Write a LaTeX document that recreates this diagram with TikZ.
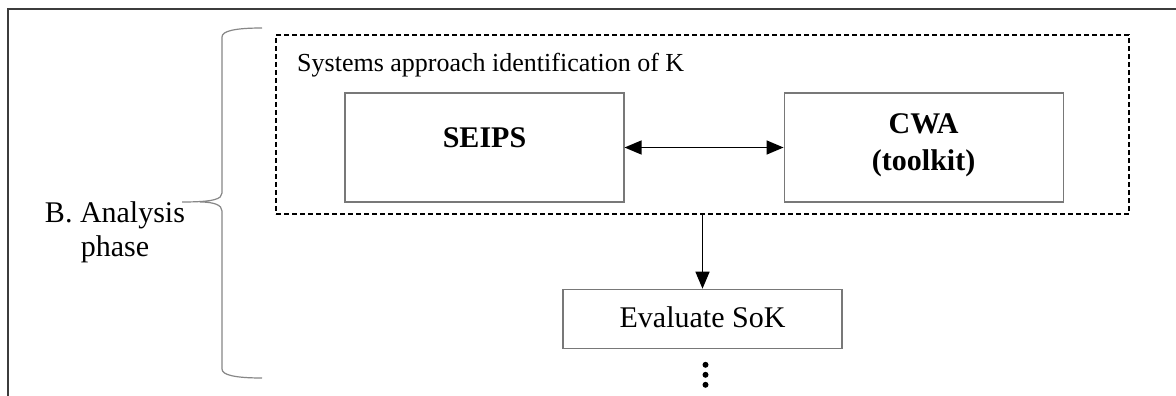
\documentclass[tikz,border=0pt]{standalone}
\usepackage{fontspec}
\setmainfont{Liberation Serif}
\usepackage{xcolor}
\usepackage{tikz}
\usetikzlibrary{arrows.meta, positioning}
\definecolor{framegray}{RGB}{60,60,60}
\definecolor{boxgray}{RGB}{120,120,120}
\definecolor{bracegray}{RGB}{135,135,135}
\tikzset{
    stepbox/.style={rectangle, draw=boxgray, line width=1.1pt,
        minimum width=279pt, inner xsep=0pt, inner ysep=0pt,
        align=center, font=\fontsize{30}{37}\selectfont},
    groupbox/.style={rectangle, draw=black, dashed, dash pattern=on 5pt off 3pt,
        line width=1.4pt, minimum width=853pt, minimum height=179pt, inner sep=0pt},
    arrow/.style={-{Triangle[length=17pt, width=14pt]}, line width=1.4pt},
    bothways/.style={{Triangle[length=17pt, width=14pt]}-{Triangle[length=17pt, width=14pt]}, line width=1.4pt},
}

\begin{document}
\begin{tikzpicture}[x=1pt, y=-1pt]
    \useasboundingbox[fill=white] (0,0) rectangle (1176,396);
    % open frame (left and top edges only)
    \draw[framegray, line width=2pt] (8,396) -- (8,9) -- (1176,9);

    \node (group) [groupbox] at (702.5,124.5) {};
    \node (grouptitle) [anchor=base west, inner sep=0pt, font=\fontsize{26}{30}\selectfont]
        at (297,72) {Systems approach identification of K};

    \node (seips) [stepbox, text height=54pt, text depth=55pt] at (484.5,147.5) {\textbf{SEIPS}};
    \node (cwa)   [stepbox, text height=77pt, text depth=32pt, right=159pt of seips]
        {\textbf{CWA}\\\textbf{(toolkit)}};
    \node (evalsok) [stepbox, text height=38pt, text depth=21pt, below=74pt of group] {Evaluate SoK};

    \draw[bothways] (seips) -- (cwa);
    \draw[arrow] (group) -- (evalsok);

    % more steps follow
    \foreach \y in {364,374,384}
        \fill (evalsok.south) ++(3,\y-348) circle (3pt);

    % phase brace and label
    \draw[bracegray, line width=1.2pt]
        (262,28) .. controls (235,28) and (222,31) .. (222,37) -- (222,193)
        .. controls (222,199) and (214,202) .. (182,202)
        (200,202) .. controls (214,202) and (222,205) .. (222,211) -- (222,369)
        .. controls (222,375) and (235,378) .. (262,378);
    \node (phase) [align=center, inner sep=0pt, font=\fontsize{30}{34}\selectfont]
        at (115,232) {B. Analysis\\phase};
\end{tikzpicture}
\end{document}
